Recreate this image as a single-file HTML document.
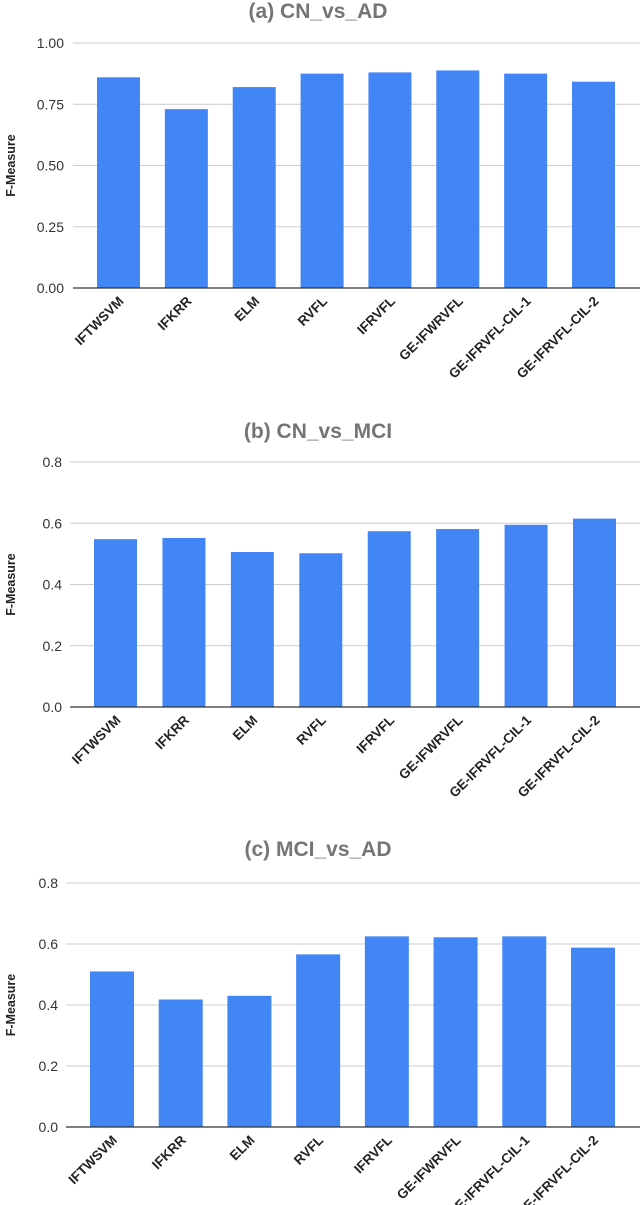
<!DOCTYPE html>
<html><head><meta charset="utf-8"><style>
body{margin:0;background:#fff;}
svg{display:block;font-family:"Liberation Sans",Arial,sans-serif;}
</style></head><body>
<svg id="c" width="640" height="1205"></svg>
<script>
const categories=["IFTWSVM","IFKRR","ELM","RVFL","IFRVFL","GE-IFWRVFL","GE-IFRVFL-CIL-1","GE-IFRVFL-CIL-2"];
const valuesA=[0.86,0.73,0.82,0.875,0.88,0.888,0.875,0.842];
const valuesB=[0.548,0.552,0.506,0.502,0.574,0.581,0.595,0.615];
const valuesC=[0.51,0.418,0.43,0.566,0.625,0.622,0.625,0.588];
const ticksA=["0.00","0.25","0.50","0.75","1.00"];
const ticksB=["0.0","0.2","0.4","0.6","0.8"];
const ticksC=["0.0","0.2","0.4","0.6","0.8"];
const titles=["(a)  CN_vs_AD","(b)  CN_vs_MCI","(c) MCI_vs_AD"];
const NS="http://www.w3.org/2000/svg";
const svg=document.getElementById('c');
function mk(tag,attrs,parent){const e=document.createElementNS(NS,tag);for(const k in attrs)e.setAttribute(k,attrs[k]);(parent||svg).appendChild(e);return e;}
function chart(key,title,titleY,vals,ticks,y0,y1,gridL,labelR,bar0,barLast,barW){
  const g=mk('g',{});
  
  
  const vmax=parseFloat(ticks[ticks.length-1]);
  const y=v=>y0-(v/vmax)*(y0-y1);
  const step=(barLast-bar0)/(vals.length-1);
  const t=mk('text',{x:318,y:titleY+8,'text-anchor':'middle','font-size':21,'font-weight':'bold',fill:'#757575'},g);
  t.textContent=title;
  
  
  ticks.forEach((tk,i)=>{
    const v=parseFloat(tk),yy=y(v);
    if(i>0){const l=mk('line',{x1:gridL,x2:640,y1:yy,y2:yy,stroke:'#ccc','stroke-width':1},g);
      
      }
    const tx=mk('text',{x:labelR,y:yy+5,'text-anchor':'end','font-size':14,fill:'#333'},g);
    tx.textContent=tk;
    
    
  });
  vals.forEach((v,i)=>{
    const cx=bar0+step*i+barW/2;
    const r=mk('rect',{x:bar0+step*i,y:y(v),width:barW,height:y0-y(v),fill:'#4285f4'},g);
    
    
    const lx=mk('text',{transform:`translate(${cx+6},${y0+14}) rotate(-45)`,'text-anchor':'end','font-size':13.5,'font-weight':'bold',fill:'#222'},g);
    lx.textContent=categories[i];
    
    
  });
  const ax=mk('line',{x1:gridL,x2:640,y1:y0,y2:y0,stroke:'#333','stroke-width':1.3},g);
  
  
  const yc=(y0+y1)/2;
  const yt=mk('text',{transform:`translate(15,${yc}) rotate(-90)`,'text-anchor':'middle','font-size':12.5,'font-weight':'bold',fill:'#222'},g);
  yt.textContent='F-Measure';
  
  
}
chart('a',titles[0],10,valuesA,ticksA,288,43,73,64,97,572,43);
chart('b',titles[1],430,valuesB,ticksB,707,462,70,62,94,573,43);
chart('c',titles[2],848,valuesC,ticksC,1127,883,66,58,90,571,44);
</script>
</body></html>
